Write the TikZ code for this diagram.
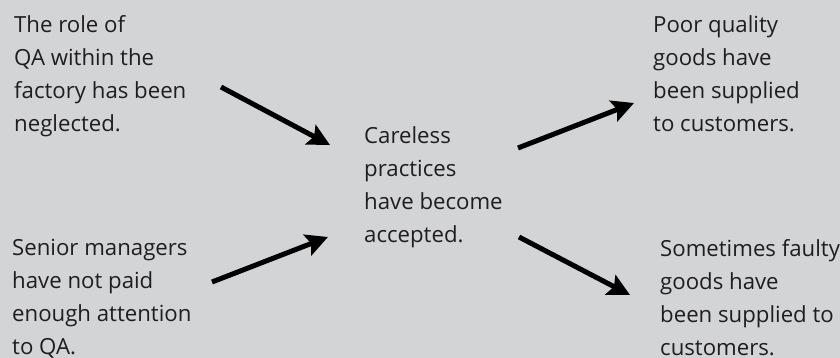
\documentclass[tikz,border=0pt]{standalone}
\usepackage{fontspec}
\setmainfont{Open Sans}
\usetikzlibrary{arrows.meta}
\definecolor{bg}{HTML}{D3D4D6}
\definecolor{txt}{HTML}{1E1E1E}
\begin{document}
\begin{tikzpicture}[x=1pt,y=-1pt,
  lbl/.style={anchor=base west, align=left, inner sep=0pt, text=txt, font=\fontsize{22.2}{33}\selectfont},
  arr/.style={line width=5pt, -{Stealth[length=22pt,width=22pt,inset=4pt]}, black}]
\fill[bg] (0,0) rectangle (840,358);
\useasboundingbox (0,0) rectangle (840,358);
% base anchor = baseline of the last line
\node[lbl] (a) at (14,132) {The role of\\QA within the\\factory has been\\neglected.};
\node[lbl] (b) at (12,354) {Senior managers\\have not paid\\enough attention\\to QA.};
\node[lbl] (c) at (364,242) {Careless\\practices\\have become\\accepted.};
\node[lbl] (d) at (653,132) {Poor quality\\goods have\\been supplied\\to customers.};
\node[lbl] (e) at (660,355) {Sometimes faulty\\goods have\\been supplied to\\customers.};
\coordinate (a1) at (221,87);
\coordinate (c1) at (330,145);
\coordinate (b1) at (212,282);
\coordinate (c2) at (328,237);
\coordinate (c3) at (518,148);
\coordinate (d1) at (634,103);
\coordinate (c4) at (519,237);
\coordinate (e1) at (630,295);
\draw[arr] (a1) -- (c1);
\draw[arr] (b1) -- (c2);
\draw[arr] (c3) -- (d1);
\draw[arr] (c4) -- (e1);
\end{tikzpicture}
\end{document}
